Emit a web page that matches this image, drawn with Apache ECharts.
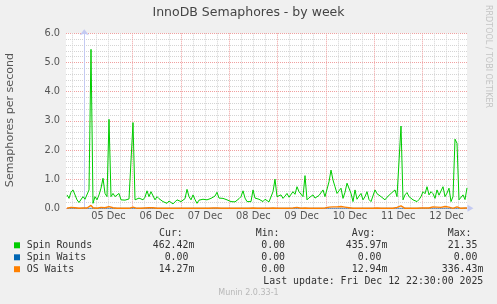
<!DOCTYPE html>
<html>
<head>
<meta charset="utf-8">
<script src="https://cdn.jsdelivr.net/npm/echarts@6/dist/echarts.min.js"></script>
<style>
html,body{margin:0;padding:0;background:#F0F0F0;}
#chart{width:497px;height:304px;}
</style>
</head>
<body>
<div id="chart"></div>
<script>
// ---- data ----
const titleText = 'InnoDB Semaphores - by week';
const yAxisTitle = 'Semaphores per second';
const dayLabels = ['05 Dec','06 Dec','07 Dec','08 Dec','09 Dec','10 Dec','11 Dec','12 Dec'];
// hours relative to 05 Dec 00:00
const xMin = -9.1, xMax = 190.2;
const startHour = -8.6, stepHours = 0.994;

const spinRounds = [
0.46,0.34,0.55,0.63,0.69,0.29,0.20,0.15,0.40,0.31,
0.34,0.63,5.45,0.17,0.40,0.29,0.46,0.69,1.03,0.51,
0.40,3.05,0.40,0.51,0.40,0.45,0.51,0.29,0.34,0.28,
0.23,0.32,0.29,2.94,0.29,0.31,0.35,0.40,0.29,0.38,
0.60,0.40,0.57,0.60,0.29,0.40,0.33,0.29,0.23,0.26,
0.17,0.25,0.29,0.15,0.22,0.29,0.26,0.23,0.29,0.33,
0.65,0.40,0.29,0.46,0.30,0.17,0.28,0.34,0.31,0.36,
0.29,0.33,0.34,0.30,0.42,0.55,0.35,0.29,0.34,0.38,
0.29,0.25,0.23,0.29,0.22,0.17,0.33,0.40,0.60,0.35,
0.23,0.29,0.23,0.63,0.35,0.29,0.31,0.28,0.23,0.31,
0.31,0.22,0.20,0.57,1.00,0.40,0.35,0.46,0.34,0.42,
0.51,0.38,0.34,0.57,0.48,0.74,0.57,0.52,0.40,1.12,
0.29,0.36,0.40,0.46,0.35,0.40,0.44,0.40,0.63,0.40,
0.45,0.91,1.31,0.97,0.74,0.51,0.60,0.69,0.34,0.55,
0.86,0.80,0.51,0.23,0.63,0.31,0.42,0.51,0.29,0.40,
0.57,0.30,0.23,0.29,0.63,0.50,0.54,0.40,0.35,0.29,
0.38,0.34,0.51,0.45,0.63,0.40,0.45,2.82,0.29,0.46,
0.54,0.40,0.46,0.29,0.35,0.23,0.30,0.40,0.57,0.50,
0.74,0.46,0.57,0.50,0.34,0.63,0.45,0.51,0.74,0.40,
0.52,0.69,0.23,0.40,2.37,2.23,0.29,0.23,0.46,0.30,
0.70
];
const spinWaits = [
0,0,0,0,0,0,0,0,0,0, 0,0,0,0,0,0,0,0,0,0,
0,0,0,0,0,0,0,0,0,0, 0,0,0,0,0,0,0,0,0,0,
0,0,0,0,0,0,0,0,0,0, 0,0,0,0,0,0,0,0,0,0,
0,0,0,0,0,0,0,0,0,0, 0,0,0,0,0,0,0,0,0,0,
0,0,0,0,0,0,0,0,0,0, 0,0,0,0,0,0,0,0,0,0,
0,0,0,0,0,0,0,0,0,0, 0,0,0,0,0,0,0,0,0,0,
0,0,0,0,0,0,0,0,0,0, 0,0,0,0,0,0,0,0,0,0,
0,0,0,0,0,0,0,0,0,0, 0,0,0,0,0,0,0,0,0,0,
0,0,0,0,0,0,0,0,0,0, 0,0,0,0,0,0,0,0,0,0,
0,0,0,0,0,0,0,0,0,0, 0,0,0,0,0,0,0,0,0,0,
0
];
const osWaits = [
0,0.01,0.03,0.05,0.02,0,0,0,0.01,0,
0.01,0.06,0.10,0.02,0,0,0.01,0.03,0.05,0.02,
0.04,0.06,0.03,0.02,0,0,0.01,0,0,0,
0,0,0.01,0.04,0.01,0,0,0,0,0.01,
0.03,0.02,0.04,0.02,0,0,0,0,0,0,
0,0,0,0,0,0,0,0,0,0,
0.01,0,0,0,0,0,0,0,0,0,
0,0,0,0.01,0.04,0.01,0,0,0,0,
0,0,0,0,0,0,0,0,0.01,0,
0,0,0,0.01,0,0,0,0,0,0,
0,0,0,0.01,0.02,0,0,0,0,0,
0,0,0,0.01,0.05,0.03,0,0,0,0.01,
0,0,0.03,0,0,0,0,0,0,0.01,
0.02,0.04,0.06,0.05,0.03,0.05,0.04,0.06,0.03,0.04,
0.05,0.02,0,0,0.01,0,0,0,0,0,
0,0,0,0,0.04,0.01,0,0,0,0,
0,0,0,0,0.01,0.03,0.05,0.08,0.02,0,
0,0,0,0,0,0,0,0.01,0.04,0.01,
0,0.01,0.03,0.05,0.02,0.04,0.05,0.03,0.04,0.06,
0.03,0.04,0.01,0,0.02,0.05,0.01,0,0,0.01,
0.01
];
const seriesNames = ['Spin Rounds','Spin Waits','OS Waits'];
const seriesColors = ['#00CC00','#0066B3','#FF8000'];
const curVals = ['462.42m','0.00 ','14.27m'];
const minVals = ['0.00 ','0.00 ','0.00 '];
const avgVals = ['435.97m','0.00 ','12.94m'];
const maxVals = ['21.35 ','0.00 ','336.43m'];
const lastUpdate = 'Last update: Fri Dec 12 22:30:00 2025';
const footer = 'Munin 2.0.33-1';
const sideText = 'RRDTOOL / TOBI OETIKER';

// ---- build ----
const toXY = arr => arr.map((v, i) => [startHour + i * stepHours, v]);
const majorHours = [], minorHours = [], labelHours = [];
for (let h = -24; h <= xMax; h += 6) {
  if (h < xMin) continue;
  if (h % 24 === 0) majorHours.push(h); else minorHours.push(h);
}
dayLabels.forEach((d, k) => labelHours.push(k * 24 + 12));

const chart = echarts.init(document.getElementById('chart'), null, {renderer: 'canvas'});
const SANS = 'DejaVu Sans', MONO = 'DejaVu Sans Mono';
const axisCol = '#C4CAF2';
const legendFont = 9.9, txtCol = '#333333';
const rowY = [245.3, 257.3, 269.2];

const graphics = [
  {type:'text', left:'center', top: 6, style:{text:titleText, font:'12.5px "'+SANS+'"', fill:'#444444'}},
  {type:'text', x:10, y:120, rotation:Math.PI/2, style:{text:yAxisTitle, font:'11.1px "'+SANS+'"', fill:'#555555', align:'center', verticalAlign:'middle'}},
  {type:'text', x:488.5, y:56.5, rotation:-Math.PI/2, style:{text:sideText, font:'8px "'+SANS+'"', fill:'#C4C4C4', align:'center', verticalAlign:'middle'}},
  {type:'text', x:159, y:233.3, style:{text:'Cur:', font:legendFont+'px "'+MONO+'"', fill:txtCol, verticalAlign:'middle'}},
  {type:'text', x:255.7, y:233.3, style:{text:'Min:', font:legendFont+'px "'+MONO+'"', fill:txtCol, verticalAlign:'middle'}},
  {type:'text', x:351.7, y:233.3, style:{text:'Avg:', font:legendFont+'px "'+MONO+'"', fill:txtCol, verticalAlign:'middle'}},
  {type:'text', x:447.7, y:233.3, style:{text:'Max:', font:legendFont+'px "'+MONO+'"', fill:txtCol, verticalAlign:'middle'}},
  {type:'text', x:483.3, y:281.6, style:{text:lastUpdate, font:legendFont+'px "'+MONO+'"', fill:txtCol, align:'right', verticalAlign:'middle'}},
  {type:'text', x:248.5, y:293.3, style:{text:footer, font:'8px "'+SANS+'"', fill:'#B8B8B8', align:'center', verticalAlign:'middle'}}
];
seriesNames.forEach((n, k) => {
  const y = rowY[k];
  graphics.push({type:'rect', shape:{x:14, y:y-3, width:6, height:6}, style:{fill:seriesColors[k]}});
  graphics.push({type:'text', x:26.7, y:y, style:{text:n, font:legendFont+'px "'+MONO+'"', fill:txtCol, verticalAlign:'middle'}});
  [[curVals,194.4],[minVals,291],[avgVals,387.4],[maxVals,483.4]].forEach(([arr, xr]) => {
    graphics.push({type:'text', x:xr, y:y, style:{text:arr[k], font:legendFont+'px "'+MONO+'"', fill:txtCol, align:'right', verticalAlign:'middle'}});
  });
});

const option = {
  backgroundColor: '#F0F0F0',
  animation: false,
  grid: {left:66, top:33.3, width:401, height:175, show:true, backgroundColor:'#FFFFFF', borderWidth:0},
  xAxis: [
    {type:'value', position:'bottom', min:xMin, max:xMax,
     axisLine:{show:false}, axisTick:{show:false, customValues:minorHours}, axisLabel:{show:false},
     splitLine:{show:true, lineStyle:{color:'#D4D4D4', width:1, type:[1,1]}}},
    {type:'value', position:'bottom', min:xMin, max:xMax,
     axisLine:{show:false},
     axisTick:{show:false, customValues:majorHours},
     axisLabel:{show:true, customValues:labelHours, formatter: v => dayLabels[Math.round((v-12)/24)] || '',
       color:'#555555', fontFamily:SANS, fontSize:9.8, margin:3},
     splitLine:{show:true, lineStyle:{color:'#F0A0A0', width:1, type:[1,1]}}}
  ],
  yAxis: {type:'value', min:0, max:6, interval:1,
    axisLine:{show:true, lineStyle:{color:axisCol, width:1}, symbol:['none','arrow'], symbolSize:[7,6], symbolOffset:[0,4]},
    axisTick:{show:false},
    axisLabel:{formatter: v => v.toFixed(1), color:'#555555', fontFamily:SANS, fontSize:9.8, margin:6},
    splitLine:{show:true, lineStyle:{color:'#F0A0A0', width:1, type:[1,1]}},
    minorTick:{show:false, splitNumber:5},
    minorSplitLine:{show:true, lineStyle:{color:'#D4D4D4', width:1, type:[1,1]}}
  },
  series: [
    {name:seriesNames[1], type:'line', xAxisIndex:1, data:toXY(spinWaits), showSymbol:false, symbol:'none',
     lineStyle:{color:seriesColors[1], width:0.8}, itemStyle:{color:seriesColors[1]}, clip:true},
    {name:seriesNames[0], type:'line', xAxisIndex:1, data:toXY(spinRounds), showSymbol:false, symbol:'none',
     lineStyle:{color:seriesColors[0], width:1}, itemStyle:{color:seriesColors[0]}, clip:true},
    {name:seriesNames[2], type:'line', xAxisIndex:1, data:toXY(osWaits), showSymbol:false, symbol:'none', zlevel:1,
     lineStyle:{color:seriesColors[2], width:1.4}, itemStyle:{color:seriesColors[2]}, clip:false}
  ],
  graphic: graphics
};
chart.setOption(option);

// x-axis arrow decoration at the right end of the zero line
const p0 = chart.convertToPixel({xAxisIndex:1, yAxisIndex:0}, [xMax, 0]);
graphics.push({type:'polygon', z:1, shape:{points:[[p0[0]+0.5, p0[1]-3.5],[p0[0]+6.5, p0[1]],[p0[0]+0.5, p0[1]+3.5]]}, style:{fill:axisCol}});
chart.setOption({graphic: graphics});
</script>
</body>
</html>
